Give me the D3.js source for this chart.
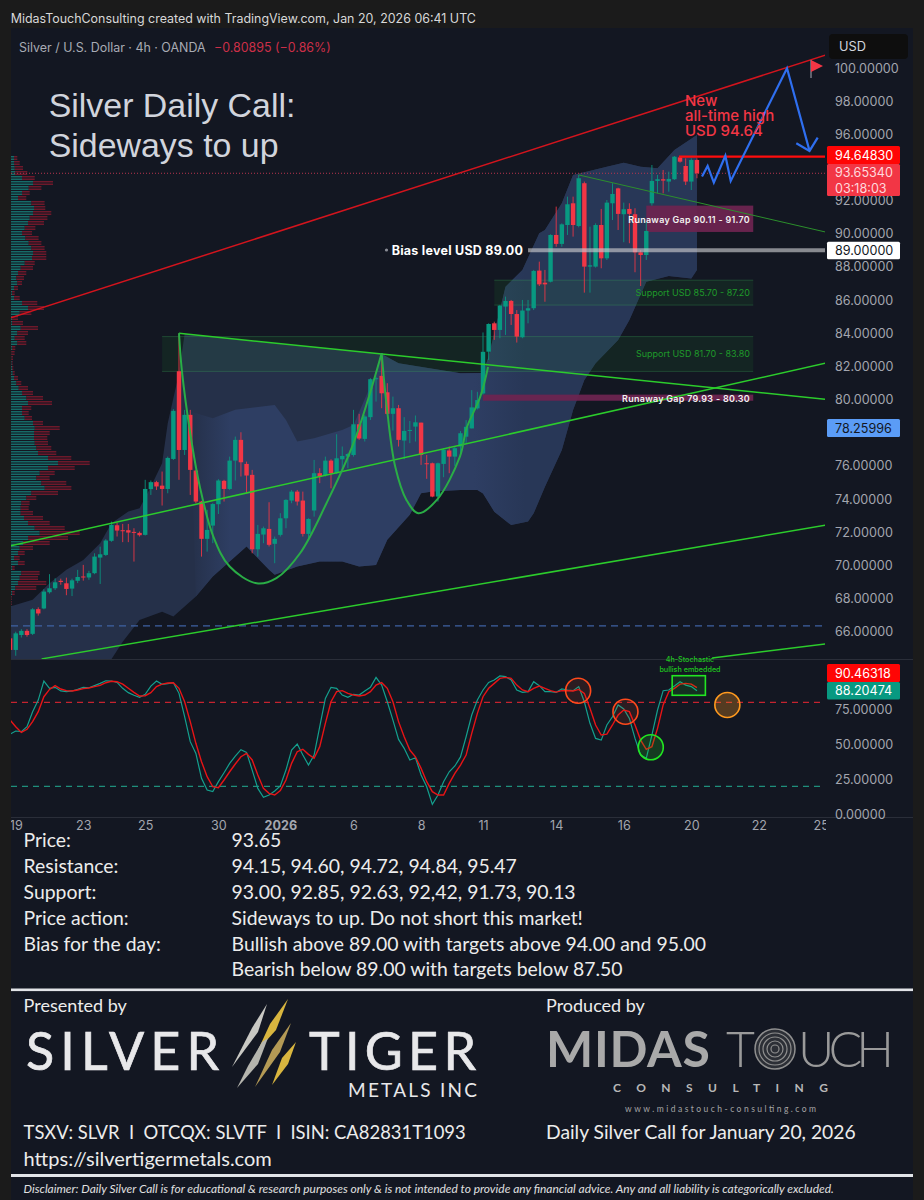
<!DOCTYPE html>
<html><head><meta charset="utf-8">
<script src="https://cdn.jsdelivr.net/npm/d3@7/dist/d3.min.js"></script>
<style>html,body{margin:0;padding:0;background:#1b1b1b}svg{display:block}text{font-family:Inter,sans-serif}</style>
</head><body><div id="c"></div>
<script>
// candles, index 0..122 : open, high, low, close
const opens=[65.6,64.9,65.8,66.05,65.87,67.36,67.4,68.38,68.62,69.07,68.92,68.6,69.07,69.33,69.27,69.53,70.47,70.63,71.48,72.42,72.12,72.12,72.02,71.96,71.84,74.6,75.02,74.81,74.61,76.42,81.71,76.96,79.08,75.72,73.85,71.6,72.4,73.69,75.1,74.61,76.32,77.57,76.12,75.46,70.97,71.86,72.2,71.3,71.84,72.84,73.91,74.45,73.91,71.9,73.31,75.56,75.44,76.32,75.56,76.4,76.56,76.66,78.51,77.63,78.94,81.23,81.43,80.44,79.14,79.48,77.53,78.13,78.37,78.61,76.16,76.16,74.15,76.12,76.93,76.56,77.17,77.76,78.26,79.47,80.37,82.89,84.6,84.2,85.61,85.95,85.16,83.76,85.37,85.51,87.78,87.05,87.11,89.93,89.39,90.53,91.84,90.47,93.05,88.02,88.02,90.53,88.52,91.84,92.74,91.18,91.5,91.18,88.88,88.72,91.84,93.19,93.29,93.15,93.29,94.61,94.09,93.15,94.45];
const highs=[65.7,66.0,66.15,66.15,67.42,67.47,68.56,69.47,69.22,69.2,69.26,69.2,69.73,70.03,69.67,70.73,71.13,71.58,72.64,72.58,72.5,72.5,72.24,72.04,75.16,75.12,75.1,75.66,76.56,79.42,84.0,79.38,79.38,75.76,73.89,73.35,73.75,75.2,75.16,76.56,77.77,78.03,76.26,75.76,72.44,72.34,73.81,71.74,73.15,73.99,74.55,74.55,74.45,72.84,76.36,75.86,76.56,76.4,77.91,77.17,76.76,79.38,79.14,79.08,81.29,81.39,82.8,80.99,80.18,79.68,78.94,78.71,79.04,78.61,76.66,76.2,76.2,77.07,77.17,77.17,78.1,78.76,80.57,80.47,84.05,84.6,84.7,85.71,86.21,86.01,85.4,86.01,86.01,87.82,88.32,87.82,89.97,91.64,90.63,92.24,92.24,93.55,93.15,90.43,90.63,91.5,92.04,93.05,92.78,91.88,91.84,91.54,89.02,90.73,94.15,93.55,93.85,93.75,94.69,94.65,94.55,94.55,94.55];
const lows=[64.6,64.55,65.65,65.7,65.8,66.97,67.35,68.3,68.52,68.83,68.2,68.15,68.93,69.08,69.13,69.47,68.88,70.57,71.42,71.74,71.4,71.4,70.23,71.74,71.8,74.25,74.55,73.61,74.35,76.36,75.16,76.66,74.25,73.75,70.53,70.83,71.34,73.1,73.85,74.55,75.12,75.36,74.35,70.73,70.53,71.34,71.14,70.13,71.74,72.24,73.75,73.61,71.74,71.54,72.94,74.96,75.36,74.65,75.52,75.66,75.86,76.56,77.57,77.47,78.77,79.88,79.48,79.08,78.13,77.17,76.4,77.37,77.47,76.06,75.22,74.11,73.85,75.32,75.56,76,76.55,77.35,78.26,79.4,80.3,82.39,83.6,83.7,83.9,84.5,83.44,83.7,84.6,85.4,86.85,85.9,87.07,89.22,89.22,89.93,89.83,90.39,86.45,86.45,87.96,87.92,88.42,90.83,90.23,89.49,89.43,87.68,86.85,88.42,91.7,92.44,92.44,92.54,93.25,94.29,92.94,92.64,93.35];
const closes=[64.9,65.9,66.05,65.8,67.35,67.1,68.42,68.62,68.98,69.0,68.58,69.1,69.3,69.27,69.53,70.53,70.67,71.5,72.44,72.1,72.06,71.98,71.96,71.82,74.61,75.02,74.76,74.61,76.48,79.32,76.96,79.08,75.76,73.85,71.6,72.14,73.7,75.12,74.61,76.32,77.57,76.22,75.42,70.97,71.9,72.24,71.24,71.6,72.84,73.95,74.45,73.85,71.9,72.8,75.56,75.36,76.32,75.56,76.46,76.6,76.72,78.51,77.65,78.98,81.23,81.29,80.38,79.14,79.48,77.57,78.11,78.17,78.63,76.66,76.12,74.15,76.16,76.97,76.56,77.07,77.97,78.36,79.53,79.97,82.88,84.56,84.2,85.67,85.95,85.16,83.8,85.37,85.51,87.76,86.95,86.95,89.93,89.39,90.57,91.78,90.53,93.35,88.02,88.1,90.53,88.52,91.88,92.4,91.2,91.48,91.2,88.88,88.72,90.17,93.19,93.29,93.21,93.31,94.65,94.35,93.15,94.45,93.65];

// bands
const outerUpperIdx=[0,4,7,10,13,16,18,21,23,25,27,28,30,31,44,66,69,80,84,85,86,88,91,94,95,98,100,106,109,112,115,118,122];
const outerUpper=[67.52,67.92,68.92,69.73,70.33,71.34,72.54,73.25,73.45,74.75,76.16,78.57,81.59,83.97,83.51,82.75,82.19,81.59,81.6,82.6,84,86.81,87.82,90.03,90.23,91.84,93.55,94.05,94.29,94.05,93.95,95.06,95.96];
const outerLowerIdx=[0,10,18,20,23,27,29,33,36,39,42,46,47,51,55,59,62,65,67,71,73,75,80,83,84,86,89,92,93,95,98,100,102,104,108,110,113,117,121,122];
const outerLower=[61,63,64.34,65.4,66.71,67.21,66.91,68.12,69.33,70.23,71.14,69.73,69.43,69.93,70.23,70.23,69.93,70.03,71.54,73.05,74.35,74.45,74.55,74.55,74.34,73.24,72.43,72.64,73.14,74.75,76.96,79.37,81.18,82.19,83.6,84.8,87.11,87.45,87.31,87.82];
const innerUpperIdx=[32,36,40,47,49,51,54,59,61,65,66,69,80,84,85,86,88,91,94,95,98,100,106,109,112,115,118,122];
const innerUpper=[79.28,78.88,79.38,79.68,78.77,77.47,77.67,78.17,78.47,81.59,82.75,82.19,81.59,81.6,82.6,84,86.81,87.82,90.03,90.23,91.84,93.55,94.05,94.29,94.05,93.95,95.06,95.96];

// levels and zones
const supportZones=[[85.70,87.20,86],[81.70,83.80,27]];   // low, high, start index
const gapZones=[[90.11,91.70,113],[79.93,80.30,84]];
const zoneEndIdx=132;
const zoneLabels=["Support USD 85.70 - 87.20","Support USD 81.70 - 83.80"];
const gapLabels=["Runaway Gap 90.11 - 91.70","Runaway Gap 79.93 - 80.30"];
const redChannel=[[0,84.92],[144.8,100.78]];
const neckline=[[30,84.0],[144.8,80.02]];
const riseLine=[[0,71.17],[144.8,82.19]];
const lowerLine=[[5.6,64.36],[144.8,72.42]];
const lowLine2=[[124.7,64.42],[144.8,65.26]];
const thinLine=[[101,93.55],[144.8,90.11]];
const resistance=[[118.8,94.65],[144.8,94.65]];
const biasLine=[[92,89],[144.8,89]];
const pricePrev=66.35, priceLast=93.65;
const projection=[[122.9,93.45],[123.9,94.09],[125,93.09],[127.05,94.71],[128,93.19],[138,99.98],[142,95.0]];
const arrowHead=[[139.65,95.46],[142,95.0],[143.45,95.8]];
const cup1=[[30,84],[30.5,81.79],[32,77.97],[33.7,74.75],[36.1,71.74],[39,69.93],[43.8,68.92],[47.3,69.23],[51.5,70.73],[56.2,73.75],[61,77.37],[66,82.8]];
const cup2=[[66,82.8],[66.9,79.58],[68.4,75.96],[70.4,73.95],[72.5,73.15],[75.8,73.95],[79.9,76.56],[81.1,78.29],[83.5,80.16],[84.9,81.97]];

// volume profile
const vpUp=[3,3,3.7,4.3,11,22,17.7,11,7,20.3,23,22,18.7,17,13.7,11,14.3,17.7,20.3,22,21,13.7,9.7,7,5.3,6.3,3,1,3,11,17,8.7,1,1,9.7,6.3,3.7,6.3,1,.3,.3,.7,1,1.7,3,5.3,7.7,11,15.3,17,11,11,13.7,22,23.7,23,23,23.7,25.3,27,37,47,37,28.7,25.3,30.3,33.7,20.3,15.3,10.3,9.7,9.7,13,17,23.7,28.7,17,12,8.7,7,3,7,1,10.3,8.7,7,4.3,1,.3,.3,5.3,12,8.7,3.7,1.7,1];
const vpDown=[3.3,5.7,8.3,12,12.7,20,12.7,7.7,8.3,13.3,11.3,18.3,17.7,16,10.7,10,13.3,12.7,13.3,13.3,14.3,10,12.3,8.3,7.7,4.7,4,2.7,5.7,15.3,16,11.7,6,11,17.3,10.7,10,9,3.3,3.3,1.7,1,1.3,2,4,5,9.3,11,16.7,24,9.3,6.7,7.3,10,25,15.7,13.3,13.3,15,18.3,23.3,31.7,26.7,15,13.3,25,26.7,26.7,10,8.3,8,12.3,19,21.7,30,40,40,26.7,13.3,6.7,5.7,6.7,2.7,18.3,18.3,28.3,21,2.7,.7,.7,8.3,13.3,8.3,3.3,2,6];
const vpTopPrice=94.69, vpRowStep=0.3016;

// stochastic
const stochK=[57.3,59.5,59,62.6,73.3,81.6,95.2,90,90.7,88.1,87.6,88.1,89.2,90.7,90.4,91.9,93.5,95.4,95.2,94.2,90,86.9,85,83.5,85.7,91.6,95.2,92.8,93.3,94,86.4,69.7,51.9,43.5,25.7,17.3,16.2,23.3,29.7,36.4,41.6,46.2,44.2,31.6,18.5,12.1,13.8,16.6,20.2,31.6,45.9,50.2,42.3,35.2,42.3,62.6,82.8,90.7,90,85.2,83.5,85.7,85.2,88.1,90.7,97.8,92.3,80.4,67.3,53.5,47.1,38.8,40.4,28.1,19.7,7.1,13.8,23.3,30.4,34.5,41,55.4,70.9,81.6,88.8,94.2,95.9,98.8,98.3,95.9,88.8,87.1,87.6,94.7,91.9,87.6,87.6,87.1,89.5,88.8,88.3,91.2,80.4,65,54.2,53,63.8,69.7,78.1,75.2,68.5,54.2,42.3,40,56.6,74.5,88.3,88.8,91.6,94.7,92.3,91.2,88.2];
const stochD=[67.3,62.6,58.5,60.7,66.2,73.3,84,89.2,91.9,89.5,88.3,88.1,88.8,89.8,90.2,91.2,92.1,94,95,94.7,93,90,87.1,84.5,84.7,86.9,91.2,93,93.8,94,90,80.4,66.2,50.7,37.6,26.9,19.7,19,24.5,30.4,35.9,41.1,43.5,38.8,28.1,18.5,15,13.8,16.9,24.5,36.4,44.7,46.4,42.8,40,48.3,65,80.4,87.6,88.3,86.4,85.2,84.5,85.2,87.6,92.3,94,90,80.4,66.2,55.4,45.9,41.1,32.8,23.3,16.2,13.8,13.8,22.1,29.2,35.2,42.3,57.8,72.1,84,90,93.5,97.1,97.8,97.1,92.3,88.8,87.6,90,91.6,90,88.3,87.3,88.3,88.3,88.1,89.2,86.4,75.7,63.8,56.6,57.3,63.8,70.9,74.5,73.3,63.8,53,46.4,48.3,61.4,78.1,87.6,90,93,93.5,93,90.5];
const stochCircles=[[100.9,88.3,"#ff4a1c","rgba(255,74,28,.10)"],[109.3,73.3,"#ff4a1c","rgba(255,74,28,.10)"],[113.8,47.9,"#22e622","rgba(34,230,34,.18)"],[127.4,78.1,"#ff9a1f","rgba(255,154,31,.28)"]];
const stochBox=[117.6,123.5,99,85];

// axes
const priceTicks=[100,98,96,92,90,88,86,84,82,80,76,74,72,70,68,66];
const stochTicks=[75,50,25,0];
const timeIdx=[1,13,24,37,48,61,73,84,97,109,121,133,144];
const timeLabels=["19","23","25","30","2026","6","8","11","14","16","20","22","25"];
const infoLabels=["Price:","Resistance:","Support:","Price action:","Bias for the day:",""];
const infoValues=["93.65","94.15, 94.60, 94.72, 94.84, 95.47","93.00, 92.85, 92.63, 92,42, 91.73, 90.13","Sideways to up. Do not short this market!","Bullish above 89.00 with targets above 94.00 and 95.00","Bearish below 89.00 with targets below 87.50"];

const W=924,H=1200,BG="#131722",PL=11,PR=825,PT=28,PB=659,ST=660,SB=817;
const UP="#089981",DN="#f23645";
const svg=d3.select("#c").append("svg").attr("width",W).attr("height",H);
const x=d3.scaleLinear().domain([0,144.8]).range([10.1,825.3]);
const y=d3.scaleLinear().domain([100,66]).range([68,631.7]);
const ys=d3.scaleLinear().domain([0,100]).range([814.3,674.3]);
const defs=svg.append("defs");
defs.append("clipPath").attr("id","m").append("rect").attr("x",PL).attr("y",PT).attr("width",PR-PL).attr("height",PB-PT);
defs.append("clipPath").attr("id","s").append("rect").attr("x",PL).attr("y",ST).attr("width",PR-PL).attr("height",SB-ST);
defs.append("clipPath").attr("id","t").append("rect").attr("x",PL).attr("y",SB).attr("width",PR-PL+1).attr("height",20);
const grad=defs.append("linearGradient").attr("id","ig").attr("gradientUnits","userSpaceOnUse").attr("x1",190).attr("x2",697).attr("y1",0).attr("y2",0);
[[0,"#253049"],[.08,"#2e3e63"],[.56,"#2e3e63"],[.66,"#283757"],[1,"#283757"]].forEach(s=>grad.append("stop").attr("offset",s[0]).attr("stop-color",s[1]));

svg.append("rect").attr("width",W).attr("height",H).attr("fill","#1b1b1b");
svg.append("rect").attr("x",PL).attr("y",PT).attr("width",913-PL).attr("height",H-PT).attr("fill",BG);
svg.append("text").attr("x",10.7).attr("y",23).attr("fill","#d8d8d8").attr("font-size",12.45).text("MidasTouchConsulting created with TradingView.com, Jan 20, 2026 06:41 UTC");

const pane=svg.append("g").attr("clip-path","url(#m)");
const lineP=d3.line().x(d=>x(d[0])).y(d=>y(d[1]));
const zipP=(a,b)=>a.map((d,i)=>[d,b[i]]);

// volume profile
const vpX=d3.scaleLinear().domain([0,100]).range([PL,PL+100]);
const vpRows=vpUp.map((u,i)=>({u,d:vpDown[i],p:vpTopPrice-i*vpRowStep}));
const vp=pane.append("g");
[0,2.5].forEach(off=>{
  vp.selectAll(null).data(vpRows).join("rect").attr("x",PL).attr("y",d=>y(d.p)+off).attr("height",1.4).attr("width",d=>vpX(d.u)-PL).attr("fill","#17706c");
  vp.selectAll(null).data(vpRows).join("rect").attr("x",d=>vpX(d.u)).attr("y",d=>y(d.p)+off).attr("height",1.4).attr("width",d=>vpX(d.d)-PL).attr("fill","#731a2c");
});

// bands
const outerPts=zipP(outerUpperIdx,outerUpper).concat(zipP(outerLowerIdx,outerLower).reverse());
const innerLowerPts=zipP(outerLowerIdx,outerLower).filter(d=>d[0]>=33);
const innerPts=zipP(innerUpperIdx,innerUpper).concat(innerLowerPts.reverse());
pane.append("path").attr("d",lineP(outerPts)+"Z").attr("fill","#253049");
pane.append("path").attr("d",lineP(innerPts)+"Z").attr("fill","url(#ig)");

// zones
const zoneG=pane.append("g");
supportZones.forEach(z=>{
  zoneG.append("rect").attr("x",x(z[2])).attr("width",x(zoneEndIdx)-x(z[2])).attr("y",y(z[1])).attr("height",y(z[0])-y(z[1])).attr("fill","rgba(30,130,50,.13)");
  [z[0],z[1]].forEach(v=>zoneG.append("line").attr("x1",x(z[2])).attr("x2",x(zoneEndIdx)).attr("y1",y(v)).attr("y2",y(v)).attr("stroke","rgba(60,170,90,.3)").attr("stroke-width",1));
});
gapZones.forEach(z=>{
  zoneG.append("rect").attr("x",x(z[2])).attr("width",x(zoneEndIdx)-x(z[2])).attr("y",y(z[1])).attr("height",y(z[0])-y(z[1])).attr("fill","#6b2450").attr("fill-opacity",.95);
});

// level lines under candles
pane.append("line").attr("x1",PL).attr("x2",PR).attr("y1",y(pricePrev)).attr("y2",y(pricePrev)).attr("stroke","#3f62a3").attr("stroke-width",1.2).attr("stroke-dasharray","7 5");
pane.append("line").attr("x1",PL).attr("x2",PR).attr("y1",y(priceLast)).attr("y2",y(priceLast)).attr("stroke","#b8344f").attr("stroke-width",1).attr("stroke-dasharray","1 2");

// candles
const candles=opens.map((o,i)=>({i,o,h:highs[i],l:lows[i],c:closes[i]}));
const cg=pane.append("g");
cg.selectAll("line").data(candles).join("line").attr("x1",d=>x(d.i)).attr("x2",d=>x(d.i)).attr("y1",d=>y(d.h)).attr("y2",d=>y(d.l)).attr("stroke",d=>d.c>=d.o?UP:DN).attr("stroke-width",1).attr("stroke-opacity",.85);
cg.selectAll("rect").data(candles).join("rect").attr("x",d=>x(d.i)-2.2).attr("width",4.4).attr("y",d=>Math.min(y(d.o),y(d.c))).attr("height",d=>Math.max(1,Math.abs(y(d.o)-y(d.c)))).attr("fill",d=>d.c>=d.o?UP:DN);

// trend lines
const drawL=(pts,c,w)=>pane.append("path").attr("d",lineP(pts)).attr("fill","none").attr("stroke",c).attr("stroke-width",w);
drawL(biasLine,"rgba(200,200,205,.65)",4);
drawL(thinLine,"#2c8f2c",1);
drawL(redChannel,"#d3141d",1.5);
drawL(neckline,"#2ccc2c",1.5);
drawL(riseLine,"#2ccc2c",1.5);
drawL(lowerLine,"#2ccc2c",1.5);
drawL(lowLine2,"#2ccc2c",1.5);
drawL(resistance,"#ff0d0d",2.2);
const curve=d3.line().x(d=>x(d[0])).y(d=>y(d[1])).curve(d3.curveCatmullRom.alpha(.5));
[cup1,cup2].forEach(c=>pane.append("path").attr("d",curve(c)).attr("fill","none").attr("stroke","#2aad46").attr("stroke-width",2));
drawL(projection,"#2f6ff0",2.2);
drawL(arrowHead,"#2f6ff0",2.2);

// flag
svg.append("line").attr("x1",811).attr("x2",811).attr("y1",60).attr("y2",78).attr("stroke","#787b86").attr("stroke-width",1.5);
svg.append("polygon").attr("points","811,60 823,66 811,72").attr("fill","#f23645");

// texts in pane
const T=(t,px,py,fs,fill,o={})=>{const e=svg.append("text").attr("x",px).attr("y",py).attr("font-size",fs).attr("fill",fill).text(t);Object.entries(o).forEach(([k,v])=>e.attr(k,v));return e;};
T("Silver / U.S. Dollar · 4h · OANDA",19,51.5,12.45,"#a8abb4");
T("−0.80895 (−0.86%)",214,51.5,12.45,"#cc2f48");
T("Silver Daily Call:",48.7,117,33.9,"#d1d4dc",{style:"font-family:'Liberation Sans'"});
T("Sideways to up",48.7,157,33.9,"#d1d4dc",{style:"font-family:'Liberation Sans'"});
T("Bias level USD 89.00",391.7,254.5,12.5,"#ffffff",{"font-weight":700,"letter-spacing":".25"});
svg.append("circle").attr("cx",386.5).attr("cy",250).attr("r",1.6).attr("fill","#8a8d96");
["New","all-time high","USD 94.64"].forEach((t,i)=>T(t,685,[106,121,135.7][i],15,DN,{"font-weight":500}));
zoneLabels.forEach((t,i)=>T(t,750,[296,356.5][i],9,"#1f9a2a",{"text-anchor":"end"}));
gapLabels.forEach((t,i)=>T(t,750,[222.5,401.5][i],8.95,"#f2f2f2",{"text-anchor":"end","font-weight":600,"letter-spacing":".3"}));

// separators
svg.append("line").attr("x1",PL).attr("x2",913).attr("y1",659.5).attr("y2",659.5).attr("stroke","#2a2e39");
svg.append("line").attr("x1",PL).attr("x2",913).attr("y1",817.5).attr("y2",817.5).attr("stroke","#2a2e39");

// stochastic
const sp=svg.append("g").attr("clip-path","url(#s)");
const lineS=d3.line().x((d,i)=>x(i)).y(d=>ys(d));
sp.append("line").attr("x1",PL).attr("x2",PR).attr("y1",ys(80)).attr("y2",ys(80)).attr("stroke","#c4232f").attr("stroke-width",1.2).attr("stroke-dasharray","6 5");
sp.append("line").attr("x1",PL).attr("x2",PR).attr("y1",ys(20)).attr("y2",ys(20)).attr("stroke","#1f8f7c").attr("stroke-width",1.2).attr("stroke-dasharray","6 5");
sp.append("path").attr("d",lineS(stochK)).attr("fill","none").attr("stroke","#14a08e").attr("stroke-width",1.2);
sp.append("path").attr("d",lineS(stochD)).attr("fill","none").attr("stroke","#e81416").attr("stroke-width",1.4);
sp.selectAll("circle").data(stochCircles).join("circle").attr("cx",d=>x(d[0])).attr("cy",d=>ys(d[1])).attr("r",12.5).attr("fill",d=>d[3]).attr("stroke",d=>d[2]).attr("stroke-width",1.6);
sp.append("rect").attr("x",x(stochBox[0])).attr("width",x(stochBox[1])-x(stochBox[0])).attr("y",ys(stochBox[2])).attr("height",ys(stochBox[3])-ys(stochBox[2])).attr("fill","rgba(34,230,34,.12)").attr("stroke","#22e622").attr("stroke-width",1.6);
T("4h-Stochastic",690,661.5,7.2,"#1fc41f",{"text-anchor":"middle","font-weight":500});
T("bullish embedded",690,671.5,7.2,"#1fc41f",{"text-anchor":"middle","font-weight":500});

// price axes
const styleAxis=(g,fill)=>{g.select(".domain").remove();g.selectAll("line").remove();g.selectAll("text").attr("fill",fill).attr("font-size",12.6).attr("font-family","Inter,sans-serif");};
const ax=svg.append("g").attr("transform","translate(835,0)").call(d3.axisRight(y).tickValues(priceTicks).tickFormat(d=>d.toFixed(5)).tickSize(0).tickPadding(0));
styleAxis(ax,"#a3a6af");
const ax2=svg.append("g").attr("transform","translate(835,0)").call(d3.axisRight(ys).tickValues(stochTicks).tickFormat(d=>d.toFixed(5)).tickSize(0).tickPadding(0));
styleAxis(ax2,"#a3a6af");

// time axis
const tg=svg.append("g").attr("clip-path","url(#t)").append("g").attr("transform","translate(0,821)").call(d3.axisBottom(x).tickValues(timeIdx).tickFormat((d,i)=>timeLabels[i]).tickSize(0).tickPadding(0));
tg.select(".domain").remove();
tg.selectAll("text").attr("fill","#a3a6af").attr("font-size",12.6).attr("font-family","Inter,sans-serif").attr("font-weight",(d,i)=>timeLabels[i]==="2026"?700:400);

// value tags
const tag=(yy,h,fill,lines,tc)=>{svg.append("rect").attr("x",827).attr("y",yy).attr("width",73).attr("height",h).attr("rx",1.5).attr("fill",fill);
 lines.forEach((t,i)=>T(t,835,yy+(h/lines.length)*(i+.5)+4.6,12.6,tc));};
tag(146,18,"#ff0505",["94.64830"],"#fff");
tag(164,32,"#f23645",["93.65340","03:18:03"],"#ffd9dd");
tag(241.7,17.6,"#ffffff",["89.00000"],"#131722");
tag(419,18,"#5b9cf6",["78.25996"],"#131722");
tag(664,18,"#ff0505",["90.46318"],"#fff");
tag(682,17.5,"#089981",["88.20474"],"#fff");
svg.append("rect").attr("x",829).attr("y",34).attr("width",79).attr("height",25).attr("rx",4).attr("fill","#0e0e0e");
T("USD",839,51,12.8,"#d1d4dc");

// info block
const LF="font-family:Lato,sans-serif";
const rowsY=[847,873,899,925,950.5,976];
infoLabels.forEach((t,i)=>T(t,23.6,rowsY[i],19.4,"#ececec",{style:LF}));
infoValues.forEach((t,i)=>T(t,231.6,rowsY[i],19.4,"#ececec",{style:LF}));
svg.append("rect").attr("x",PL).attr("y",988.5).attr("width",913-PL).attr("height",2.6).attr("fill","#e2e4e8");
svg.append("rect").attr("x",PL).attr("y",1174).attr("width",913-PL).attr("height",3).attr("fill","#e2e4e8");

// footer
T("Presented by",23.6,1012,18,"#ececec",{style:LF});
T("Produced by",546,1012,18,"#ececec",{style:LF});
T("SILVER",26,1070,52,"#e8e8ea",{style:LF,textLength:193,lengthAdjust:"spacing",stroke:"#e8e8ea","stroke-width":.7});
T("TIGER",309,1070,52,"#e8e8ea",{style:LF,textLength:167,lengthAdjust:"spacing",stroke:"#e8e8ea","stroke-width":.7});
T("METALS INC",348,1097,19,"#e8e8ea",{style:LF,textLength:129});
[["267,1004 252,1028 232,1067 258,1032","#c9c9c4"],
 ["288,999 270,1024 258,1050 276,1030","#d9b63f"],
 ["262,1042 248,1066 237,1088 258,1064 268,1038","#b5b5ae"],
 ["291,1023 272,1050 255,1087 280,1052","#b49a55"],
 ["296,1042 282,1058 272,1085 288,1064","#d9b63f"]].forEach(c=>svg.append("polygon").attr("points",c[0]).attr("fill",c[1]));
T("MIDAS",546,1067,50,"#a9a9a9",{style:LF,"font-weight":700,textLength:164});
T("T",726,1067,50,"#9a9a9a",{style:LF,"font-weight":300});
[20,16,12,8,4].forEach(r=>svg.append("circle").attr("cx",775).attr("cy",1049).attr("r",r).attr("fill",r===20?"#2c2f36":"none").attr("stroke","#8f8f8f").attr("stroke-width",r===20?1.5:1.2));
T("UCH",798,1067,50,"#9a9a9a",{style:LF,"font-weight":300,textLength:96});
T("CONSULTING",613,1092,12,"#b8b8b8",{style:LF,textLength:215,"font-weight":700});
T("www.midastouch-consulting.com",625,1112,8.5,"#a5a5a5",{style:LF,textLength:191});
T("TSXV: SLVR  I  OTCQX: SLVTF  I  ISIN: CA82831T1093",23.6,1139,18.4,"#ececec",{style:LF+";white-space:pre"});
T("https://silvertigermetals.com",23.6,1166,20,"#ececec",{style:LF});
T("Daily Silver Call for January 20, 2026",546,1139,19.3,"#ececec",{style:LF});
T("Disclaimer: Daily Silver Call is for educational & research purposes only & is not intended to provide any financial advice. Any and all liability is categorically excluded.",23.6,1193,11.95,"#e0e0e0",{style:LF+";font-style:italic"});
</script></body></html>
